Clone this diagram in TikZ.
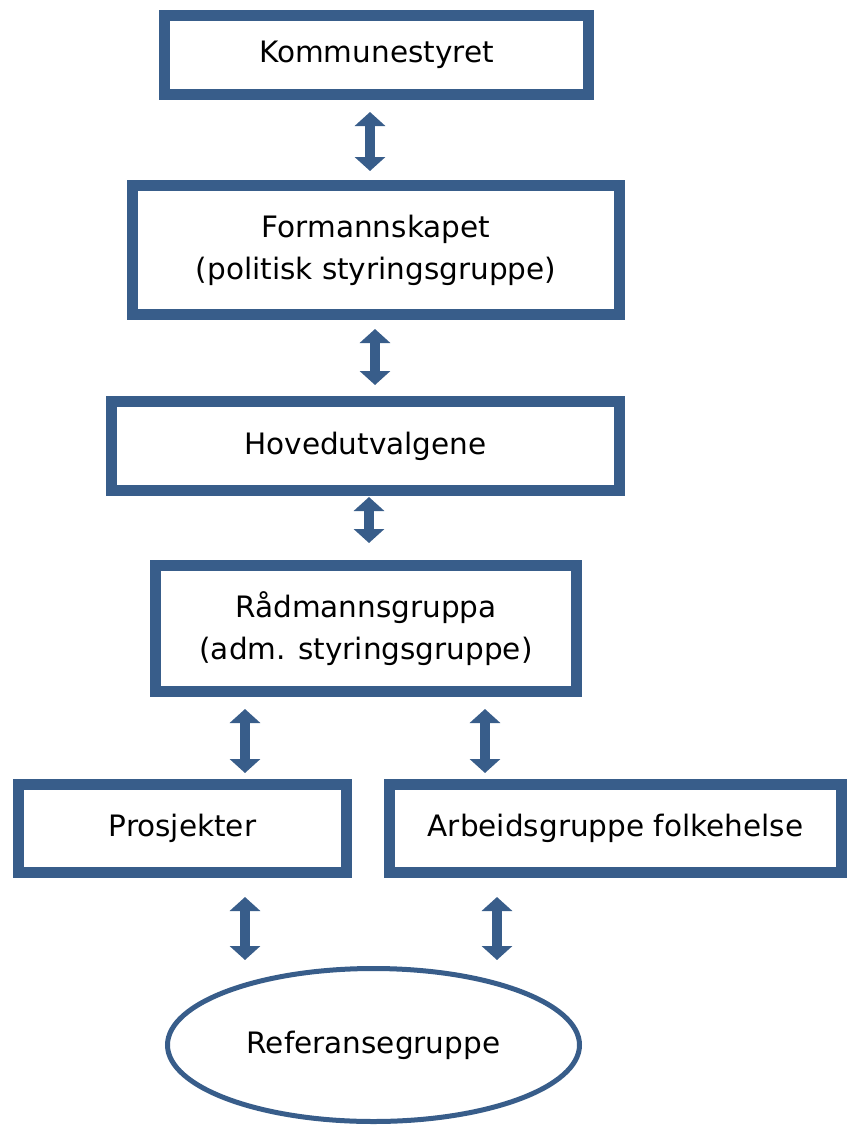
\documentclass[tikz,border=0pt]{standalone}
\usepackage{fontspec}
\setmainfont{DejaVu Sans}
\usetikzlibrary{arrows.meta,shapes.geometric}
\definecolor{boxblue}{RGB}{56,93,138}
\tikzset{
  box/.style={draw=boxblue, line width=11pt, fill=white, rectangle, inner sep=0pt, align=center,
    font=\fontsize{29.5}{42}\selectfont},
  oval/.style={draw=boxblue, line width=5pt, fill=white, ellipse, inner sep=0pt, align=center,
    font=\fontsize{29.5}{42}\selectfont},
  dar/.style={draw=boxblue, line width=10pt,
    {Triangle[width=30pt,length=14pt]}-{Triangle[width=30pt,length=14pt]}}
}
\begin{document}
\begin{tikzpicture}[x=1pt,y=-1pt]
\useasboundingbox (0,0) rectangle (847,1125);
\node[box, minimum width=424pt, minimum height=79pt] (k) at (376.5,55) {Kommunestyret};
\node[box, minimum width=487pt, minimum height=129pt] (f) at (376,250) {Formannskapet\\(politisk styringsgruppe)};
\node[box, minimum width=508pt, minimum height=89pt] (h) at (365.5,446) {Hovedutvalgene};
\node[box, minimum width=421pt, minimum height=126pt] (r) at (366,628.5) {Rådmannsgruppa\\(adm. styringsgruppe)};
\node[box, minimum width=328pt, minimum height=88pt] (p) at (182.5,828.5) {Prosjekter};
\node[box, minimum width=452pt, minimum height=88pt] (a) at (615.5,828.5) {Arbeidsgruppe folkehelse};
\node[oval, minimum width=412pt, minimum height=153pt] (e) at (373.5,1045) {Referansegruppe};

\path (k.south) ++(-6.5,0) coordinate (k1);
\draw[dar, shorten <=12pt, shorten >=9pt] (k1) -- (k1 |- f.north);
\path (f.south) ++(-1,0) coordinate (f1);
\draw[dar, shorten <=9pt, shorten >=11pt] (f1) -- (f1 |- h.north);
\path (h.south) ++(3.5,0) coordinate (h1);
\draw[dar, shorten <=1pt, shorten >=17pt] (h1) -- (h1 |- r.north);
\path (r.south) ++(-121,0) coordinate (r1);
\draw[dar, shorten <=12pt, shorten >=6pt] (r1) -- (r1 |- p.north);
\path (r.south) ++(119,0) coordinate (r2);
\draw[dar, shorten <=12pt, shorten >=6pt] (r2) -- (r2 |- a.north);
\path (p.south) ++(62.5,0) coordinate (p1);
\draw[dar, shorten <=19pt, shorten >=6pt] (p1) -- (p1 |- e.north);
\path (a.south) ++(-118.5,0) coordinate (a1);
\draw[dar, shorten <=19pt, shorten >=6pt] (a1) -- (a1 |- e.north);
\end{tikzpicture}
\end{document}
